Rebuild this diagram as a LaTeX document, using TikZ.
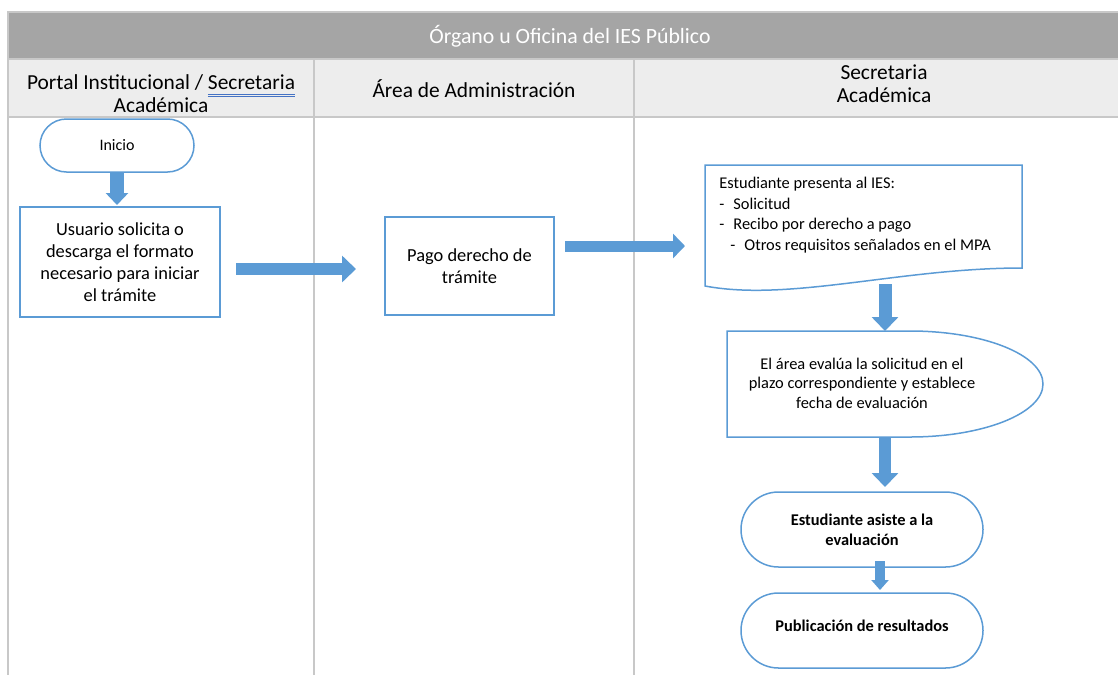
\documentclass[tikz,border=0pt]{standalone}
\usepackage{fontspec}
\setmainfont{Carlito}
\usepackage{tikz}
\usetikzlibrary{positioning,arrows.meta,shapes.misc}

\definecolor{laneline}{HTML}{C8C8C8}
\definecolor{titlegray}{HTML}{A5A5A5}
\definecolor{headgray}{HTML}{EDEDED}
\definecolor{flowblue}{HTML}{5B9BD5}
\definecolor{spellblue}{HTML}{4472C4}

\newcommand{\spellline}[1]{\setbox0\hbox{#1}%
  \rlap{\color{spellblue}\rule[-2.3pt]{\wd0}{0.4pt}}%
  \rlap{\color{spellblue}\rule[-3.3pt]{\wd0}{0.4pt}}\box0}

\begin{document}
\begin{tikzpicture}[x=0.5pt,y=-0.5pt,
    cell/.style={draw=laneline, line width=0.75pt, fill=headgray, minimum height=29pt, inner sep=0pt, outer sep=0pt, anchor=north west},
    headtext/.style={align=center, font=\fontsize{10.7}{11.5}\selectfont},
    shapeline/.style={draw=flowblue, line width=0.75pt, fill=white},
    stepbox/.style={shapeline, align=center, inner sep=2pt, outer sep=0pt},
    terminal/.style={stepbox, rounded rectangle},
    small/.style={font=\fontsize{8.2}{10.3}\selectfont},
    flow/.style={draw=flowblue, line width=6pt, -{Triangle[width=13pt,length=7pt]}}]

  \useasboundingbox (0,0) rectangle (1118,675);
  \clip (0,0) rectangle (1118,675);

  % Header
  \node[cell, fill=titlegray, minimum width=563pt, minimum height=23.5pt] (bar) at (8,12) {};
  \node[text=white, font=\fontsize{10.9}{12}\selectfont] (bartxt) at (570,36) {Órgano u Oficina del IES Público};
  \node[cell, minimum width=153pt] (portal) at (8,59) {};
  \node[cell, minimum width=160pt, right=0pt of portal] (admin) {};
  \node[cell, minimum width=250pt, right=0pt of admin] (secre) {};
  \node[headtext] (portaltxt) at (161,94) {Portal Institucional / \spellline{Secretaria}\\Académica};
  \node[headtext] (admintxt) at (474,89) {Área de Administración};
  \node[headtext] (secretxt) at (884,84) {Secretaria\\Académica};

  % Lanes
  \foreach \lane in {portal,admin,secre}
    \draw[laneline, line width=0.75pt] (\lane.south west) -- (\lane.south west |- 0,675);

  % Steps
  \node[terminal, minimum width=81pt, minimum height=26.5pt, font=\fontsize{8}{10}\selectfont] (inicio) at (117,145.5) {Inicio};
  \node[stepbox, minimum width=100pt, minimum height=55pt, font=\fontsize{9.2}{11}\selectfont] (usuario) at (120,262) {Usuario solicita o\\descarga el formato\\necesario para iniciar\\el trámite};
  \node[stepbox, minimum width=84.5pt, minimum height=49pt, font=\fontsize{9.2}{11}\selectfont] (pago) at (469.5,266) {Pago derecho de\\trámite};

  % Document shape
  \node[minimum width=158.5pt, minimum height=62.5pt, inner sep=0pt, outer sep=0pt] (docbox) at (863.5,227.5) {};
  \draw[shapeline] (docbox.north west) -- (docbox.north east) -- ([yshift=11pt]docbox.south east)
    .. controls (900,268) and (790,302) .. ([yshift=2pt]docbox.south west) -- cycle;
  \node[small, align=left, anchor=north west, inner sep=0pt] (doctxt) at (719,177) {Estudiante presenta al IES:\\-\hspace{4.5pt}Solicitud\\-\hspace{4.5pt}Recibo por derecho a pago\\\hspace{5.5pt}-\hspace{4.5pt}Otros requisitos señalados en el MPA};

  % Delay shape
  \node[minimum width=158pt, minimum height=53pt, inner sep=0pt, outer sep=0pt] (evalbox) at (885,384) {};
  \draw[shapeline] (evalbox.north west) -- ++(91.5pt,0pt)
    arc[start angle=90, end angle=-90, x radius=66.5pt, y radius=26.5pt] -- (evalbox.south west) -- cycle;
  \node[align=center, font=\fontsize{8.2}{9.75}\selectfont] (evaltxt) at (862,383) {El área evalúa la solicitud en el\\plazo correspondiente y establece\\fecha de evaluación};

  \node[terminal, minimum width=125pt, minimum height=37.5pt, font=\fontsize{8.2}{10}\selectfont\bfseries] (asiste) at (862,529.5) {Estudiante asiste a la\\evaluación};
  \node[terminal, minimum width=125pt, minimum height=37.5pt, text depth=5pt, font=\fontsize{8.2}{10}\selectfont\bfseries, below=13pt of asiste] (publica) {Publicación de resultados};

  % Arrows
  \coordinate (a1) at ([yshift=-1.5pt]usuario.east |- pago.west);
  \coordinate (a2) at ([yshift=10pt]pago.east);
  \coordinate (a5) at ([xshift=9pt]asiste.south);
  \draw[flow, line width=7pt, shorten >=1pt, -{Triangle[width=11pt,length=6pt]}] (inicio.south) -- (inicio.south |- usuario.north);
  \draw[flow, shorten <=8pt, shorten >=14.5pt] (a1) -- (a1 -| pago.west);
  \draw[flow, line width=5.5pt, shorten <=5.5pt, shorten >=10pt, -{Triangle[width=12pt,length=6pt]}] (a2) -- (a2 -| docbox.west);
  \draw[flow, line width=6.5pt, shorten <=-3pt] (evalbox.north |- docbox.south) -- (evalbox.north);
  \draw[flow, shorten >=2.5pt] (evalbox.south) -- (evalbox.south |- asiste.north);
  \draw[flow, line width=5pt, shorten <=-3pt, shorten >=1.5pt, -{Triangle[width=8.5pt,length=5pt]}] (a5) -- (a5 |- publica.north);
\end{tikzpicture}
\end{document}
